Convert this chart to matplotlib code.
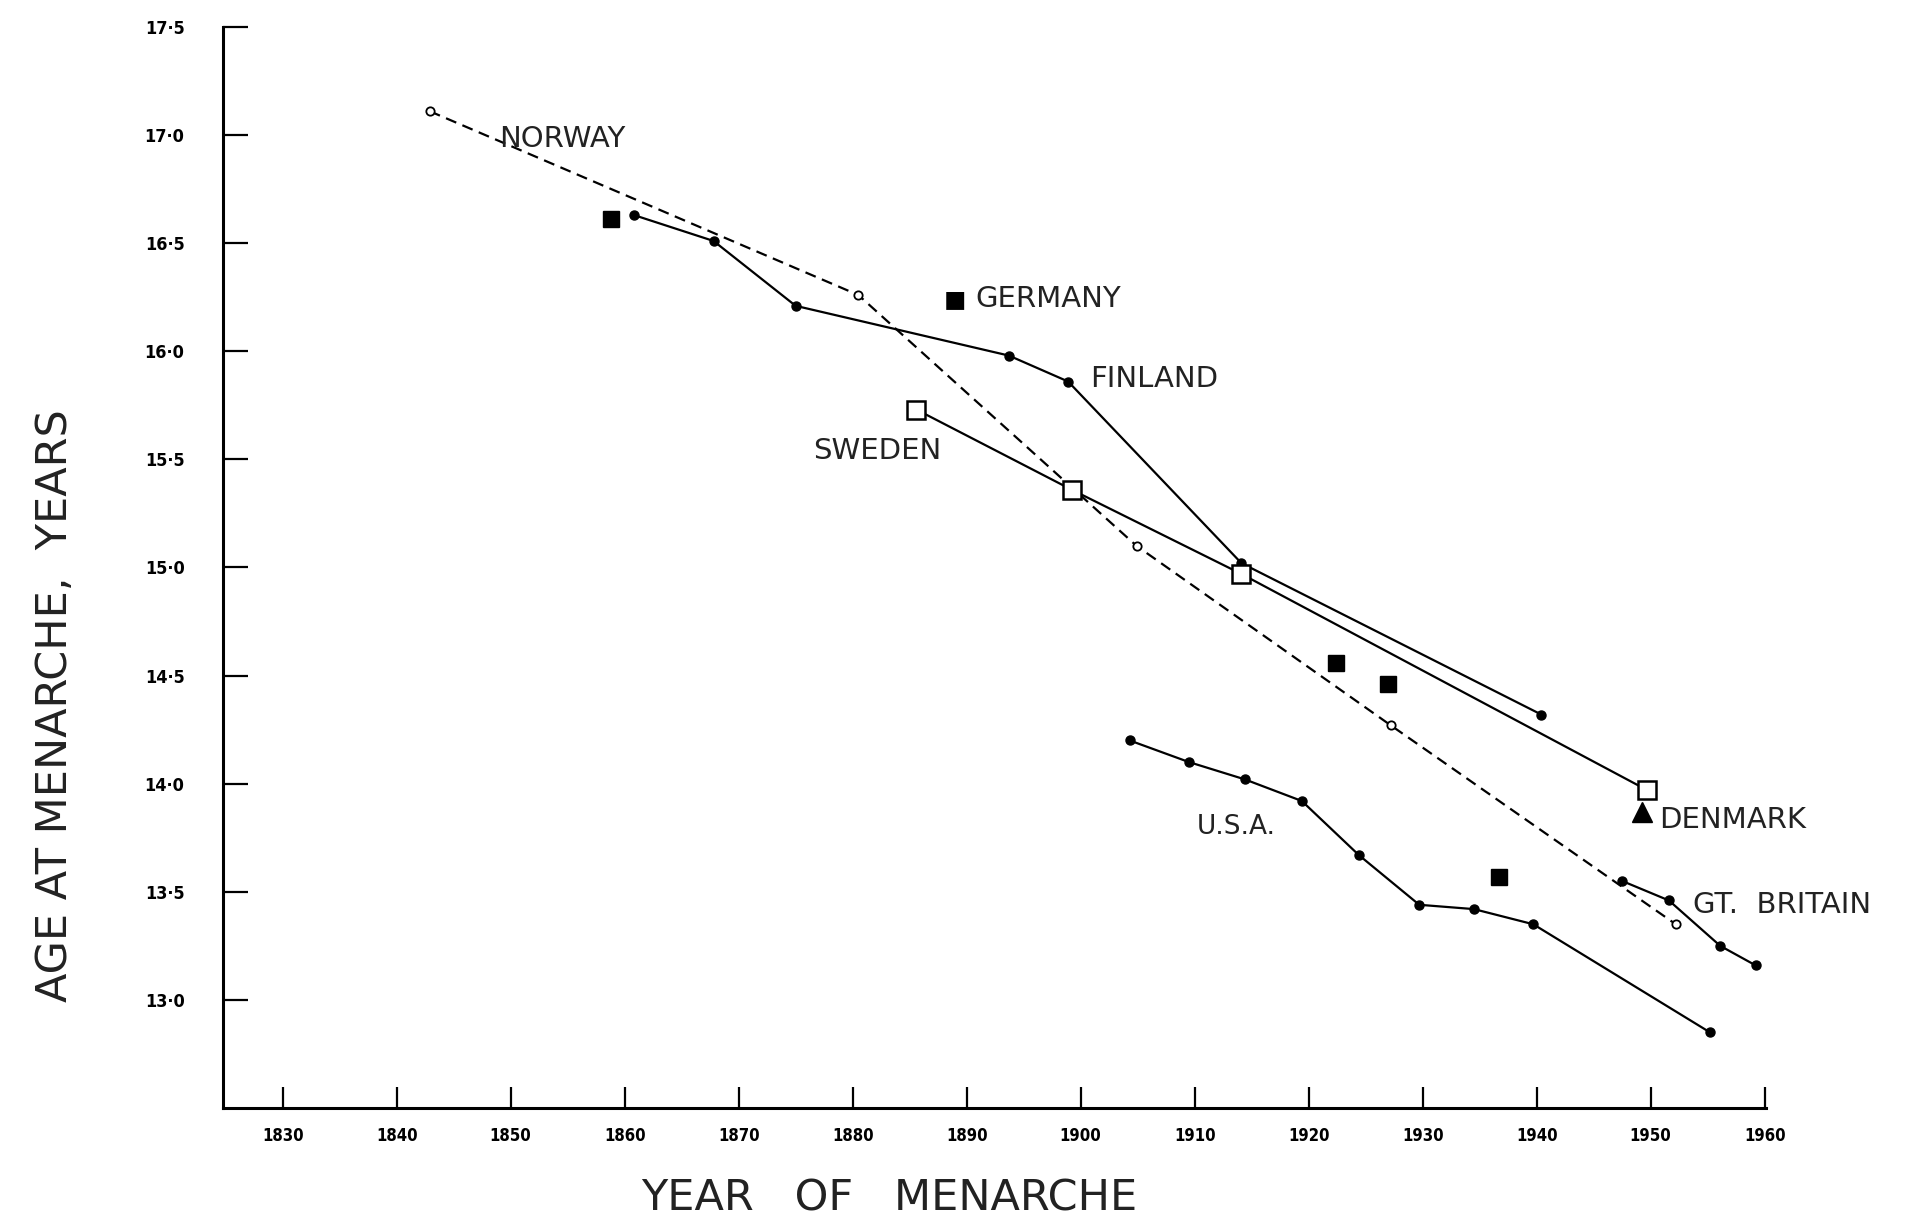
import matplotlib.pyplot as plt

plt.rcParams['font.family'] = ['DejaVu Sans']

# Finland (solid line, dots)
finland_year = [1860.8, 1867.8, 1875.0, 1893.7, 1898.9, 1914.1, 1940.4]
finland_age = [16.63, 16.51, 16.21, 15.98, 15.86, 15.02, 14.32]

# Sweden (solid line, open squares)
sweden_year = [1885.6, 1899.2, 1914.1, 1949.7]
sweden_age = [15.73, 15.36, 14.97, 13.97]

# Norway (dashed line, small open circles)
norway_year = [1842.9, 1880.5, 1904.9, 1927.2, 1952.2]
norway_age = [17.11, 16.26, 15.10, 14.27, 13.35]

# Germany (filled squares, no line)
germany_year = [1858.8, 1922.4, 1927.0, 1936.7]
germany_age = [16.61, 14.56, 14.46, 13.57]

# Denmark (triangle)
denmark_year = [1949.2]
denmark_age = [13.87]

# U.S.A. (solid line, dots)
usa_year = [1904.3, 1909.5, 1914.4, 1919.4, 1924.4, 1929.7, 1934.5, 1939.7, 1955.2]
usa_age = [14.20, 14.10, 14.02, 13.92, 13.67, 13.44, 13.42, 13.35, 12.85]

# Gt. Britain (solid line, dots)
gb_year = [1947.5, 1951.6, 1956.1, 1959.2]
gb_age = [13.55, 13.46, 13.25, 13.16]

x_ticks = list(range(1830, 1961, 10))
y_ticks = [13.0, 13.5, 14.0, 14.5, 15.0, 15.5, 16.0, 16.5, 17.0, 17.5]
y_labels = ['13·0', '13·5', '14·0', '14·5', '15·0', '15·5', '16·0', '16·5', '17·0', '17·5']

fig = plt.figure(figsize=(19.09, 12.23), dpi=100)
ax = fig.add_axes([0.117, 0.094, 0.808, 0.884])

lw = 1.6
ax.plot(norway_year, norway_age, ls=(0, (5, 3)), color='black', lw=lw,
        marker='o', ms=6, mfc='white', mec='black', mew=1.3)
ax.plot(finland_year, finland_age, '-', color='black', lw=lw,
        marker='o', ms=6.5, mfc='black', mec='black')
ax.plot(sweden_year, sweden_age, '-', color='black', lw=lw,
        marker='s', ms=13, mfc='white', mec='black', mew=1.8)
ax.plot(usa_year, usa_age, '-', color='black', lw=lw,
        marker='o', ms=6.5, mfc='black', mec='black')
ax.plot(gb_year, gb_age, '-', color='black', lw=lw,
        marker='o', ms=6.5, mfc='black', mec='black')
ax.plot(germany_year, germany_age, ls='none', marker='s', ms=12,
        mfc='black', mec='black')
ax.plot(denmark_year, denmark_age, ls='none', marker='^', ms=15,
        mfc='black', mec='black')

lab = dict(fontsize=21, va='center', ha='left', color='#222222')
ax.text(1849.0, 16.98, 'NORWAY', **lab)
ax.text(1887.9, 16.24, '▪', fontsize=26, va='center', ha='left', color='black')
ax.text(1890.8, 16.24, 'GERMANY', **lab)
ax.text(1900.8, 15.87, 'FINLAND', **lab)
ax.text(1876.5, 15.54, 'SWEDEN', **lab)
ax.text(1910.2, 13.80, 'U.S.A.', fontsize=19, va='center', ha='left', color='#222222')
ax.text(1950.7, 13.83, 'DENMARK', **lab)
ax.text(1953.7, 13.44, 'GT.  BRITAIN', **lab)

ax.set_xlim(1824.8, 1960.1)
ax.set_ylim(12.5, 17.5)
ax.set_xticks(x_ticks)
ax.set_xticklabels([str(t) for t in x_ticks])
ax.set_yticks(y_ticks)
ax.set_yticklabels(y_labels)

for s in ['top', 'right']:
    ax.spines[s].set_visible(False)
for s in ['left', 'bottom']:
    ax.spines[s].set_linewidth(2.2)

ax.tick_params(axis='x', direction='in', length=15, width=1.6, pad=14,
               labelsize=12)
ax.tick_params(axis='y', direction='in', length=18, width=1.6, pad=28,
               labelsize=13)
for t in ax.get_xticklabels() + ax.get_yticklabels():
    t.set_fontweight('bold')
    t.set_fontstretch('condensed')

ylab = ax.set_ylabel('AGE AT MENARCHE,  YEARS', fontsize=31, color='#222222')
ylab.set_va('center')
ax.yaxis.set_label_coords(-0.109, 0.372)
xlab = ax.set_xlabel('YEAR   OF   MENARCHE', fontsize=31, color='#222222')
xlab.set_va('center')
ax.xaxis.set_label_coords(0.432, -0.084)

fig.savefig('out.png', dpi=100)
